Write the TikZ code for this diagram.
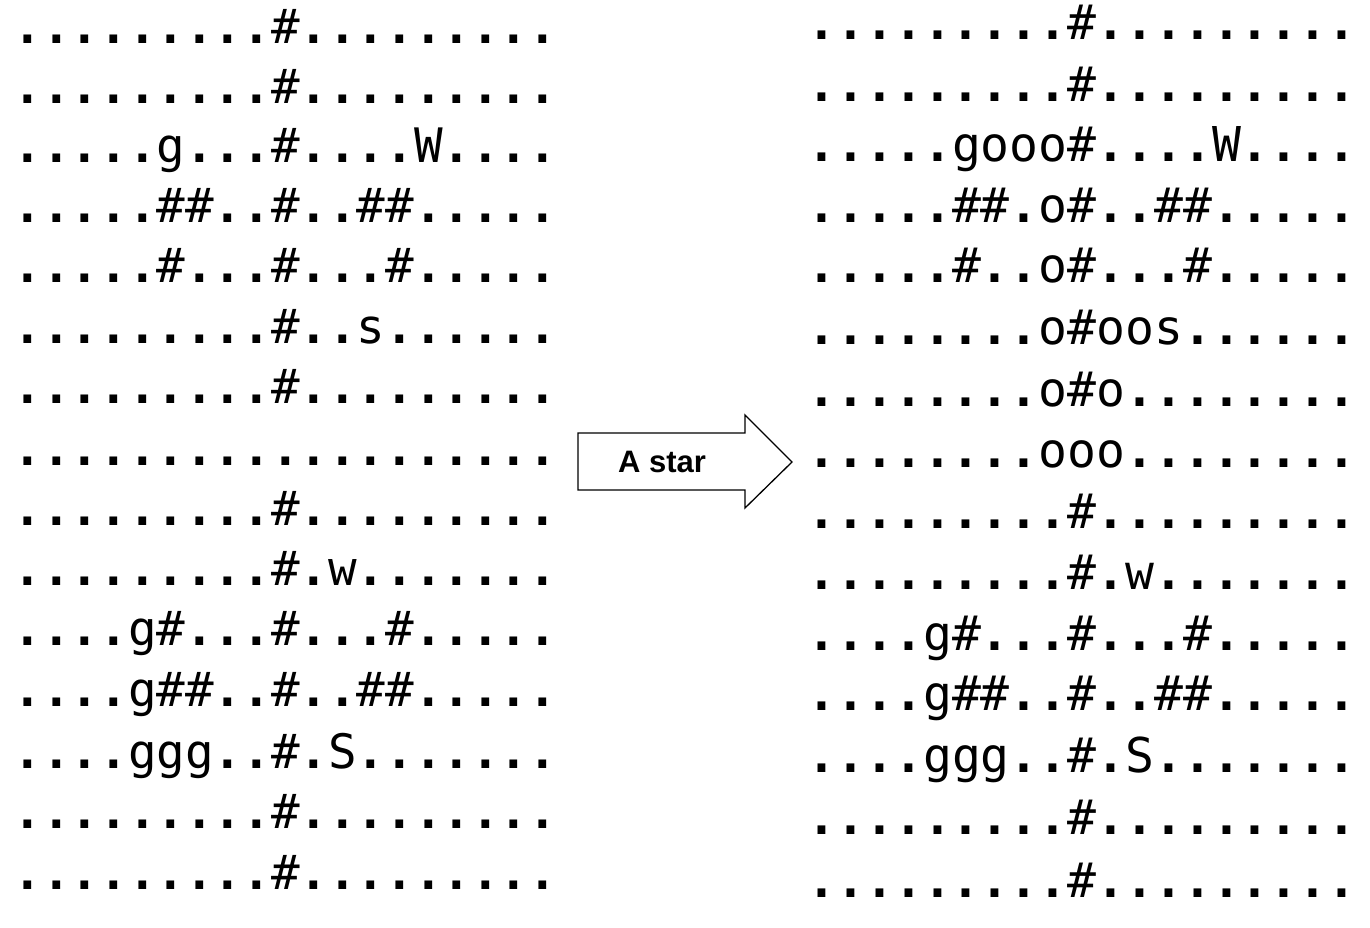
\documentclass[tikz,border=0pt]{standalone}
\usepackage{fontspec}
\setmainfont{Liberation Sans}
\newfontfamily\gridfont{DejaVu Sans Mono}
\def\gr#1{\grA#1\relax}
\def\grA#1{\ifx#1\relax\else\ifx#1.{\bfseries.}\else#1\fi\expandafter\grA\fi}
\begin{document}
\begin{tikzpicture}[x=1pt,y=-1pt,
  lrow/.style={anchor=base west,inner sep=0pt,outer sep=0pt,font=\gridfont\fontsize{47.5}{47.5}\selectfont},
  rrow/.style={anchor=base west,inner sep=0pt,outer sep=0pt,font=\gridfont\fontsize{48}{48}\selectfont},
  blockarrow/.style={draw=black,line width=1.3pt,fill=white,line join=miter},
  arrowlabel/.style={anchor=base west,inner sep=0pt,font=\bfseries\fontsize{31}{31}\selectfont}]
\useasboundingbox (0,0) rectangle (1370,927);
% left grid
\node[lrow] (L1)  at (13.7,43)  {\gr{.........\#.........}};
\node[lrow] (L2)  at (13.7,103) {\gr{.........\#.........}};
\node[lrow] (L3)  at (13.7,162) {\gr{.....g...\#....W....}};
\node[lrow] (L4)  at (13.7,222) {\gr{.....\#\#..\#..\#\#.....}};
\node[lrow] (L5)  at (13.7,282) {\gr{.....\#...\#...\#.....}};
\node[lrow] (L6)  at (13.7,343) {\gr{.........\#..s......}};
\node[lrow] (L7)  at (13.7,403) {\gr{.........\#.........}};
\node[lrow] (L8)  at (13.7,465) {\gr{...................}};
\node[lrow] (L9)  at (13.7,525) {\gr{.........\#.........}};
\node[lrow] (L10) at (13.7,585) {\gr{.........\#.w.......}};
\node[lrow] (L11) at (13.7,645) {\gr{....g\#...\#...\#.....}};
\node[lrow] (L12) at (13.7,706) {\gr{....g\#\#..\#..\#\#.....}};
\node[lrow] (L13) at (13.7,768) {\gr{....ggg..\#.S.......}};
\node[lrow] (L14) at (13.7,828) {\gr{.........\#.........}};
\node[lrow] (L15) at (13.7,889) {\gr{.........\#.........}};
% right grid
\node[rrow] (R1)  at (807.5,39)  {\gr{.........\#.........}};
\node[rrow] (R2)  at (807.5,101) {\gr{.........\#.........}};
\node[rrow] (R3)  at (807.5,161) {\gr{.....gooo\#....W....}};
\node[rrow] (R4)  at (807.5,222) {\gr{.....\#\#.o\#..\#\#.....}};
\node[rrow] (R5)  at (807.5,282) {\gr{.....\#..o\#...\#.....}};
\node[rrow] (R6)  at (807.5,344) {\gr{........o\#oos......}};
\node[rrow] (R7)  at (807.5,406) {\gr{........o\#o........}};
\node[rrow] (R8)  at (807.5,467) {\gr{........ooo........}};
\node[rrow] (R9)  at (807.5,528) {\gr{.........\#.........}};
\node[rrow] (R10) at (807.5,589) {\gr{.........\#.w.......}};
\node[rrow] (R11) at (807.5,650) {\gr{....g\#...\#...\#.....}};
\node[rrow] (R12) at (807.5,710) {\gr{....g\#\#..\#..\#\#.....}};
\node[rrow] (R13) at (807.5,772) {\gr{....ggg..\#.S.......}};
\node[rrow] (R14) at (807.5,834) {\gr{.........\#.........}};
\node[rrow] (R15) at (807.5,897) {\gr{.........\#.........}};
% block arrow
\coordinate (a1) at (578,433);
\coordinate (a2) at (745,433);
\coordinate (a3) at (745,415);
\coordinate (tip) at (792,462);
\coordinate (a5) at (745,508);
\coordinate (a6) at (745,490);
\coordinate (a7) at (578,490);
\draw[blockarrow] (a1) -- (a2) -- (a3) -- (tip) -- (a5) -- (a6) -- (a7) -- cycle;
\node[arrowlabel] (astar) at (618,472) {A star};
\end{tikzpicture}
\end{document}
